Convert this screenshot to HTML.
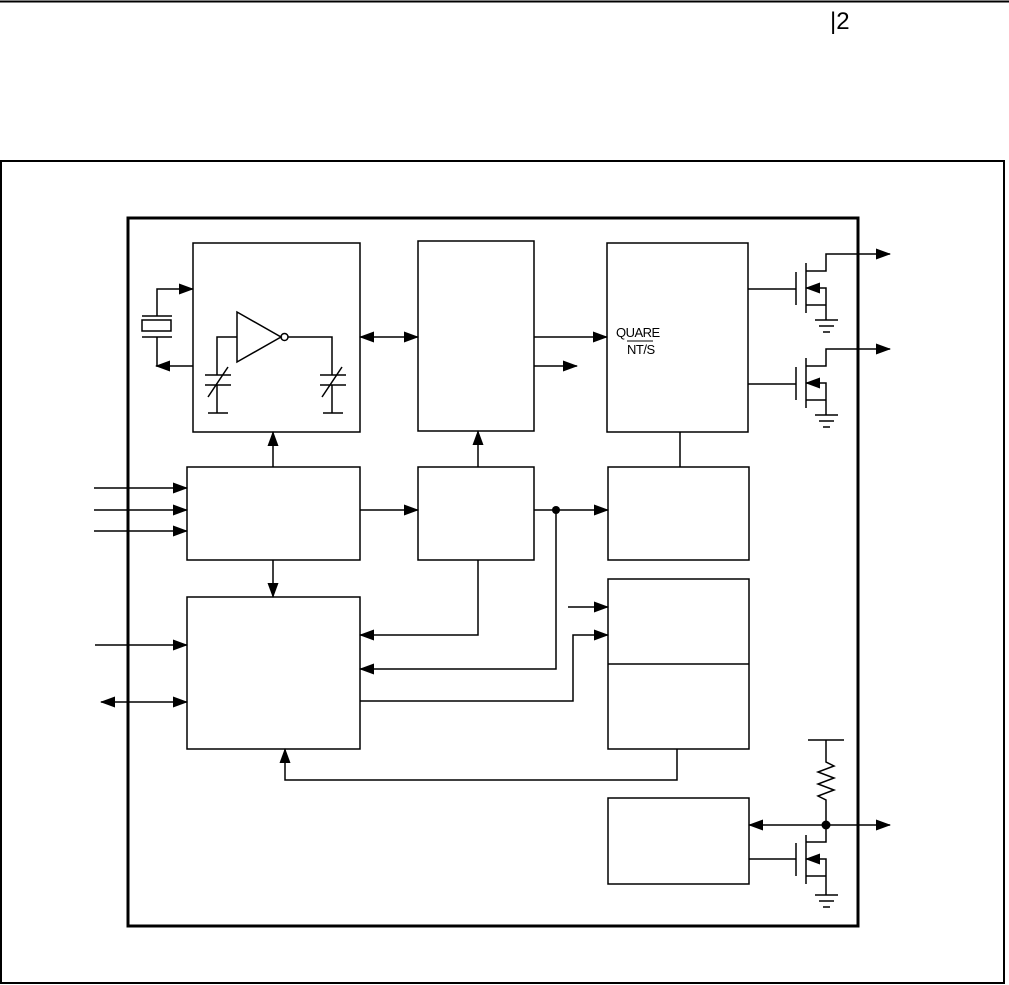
<!DOCTYPE html>
<html><head><style>body{margin:0;background:#fff}svg{display:block}</style></head><body>
<svg width="1009" height="985" viewBox="0 0 1009 985" xmlns="http://www.w3.org/2000/svg" font-family="Liberation Sans, sans-serif">
<defs><marker id="a" markerWidth="15" markerHeight="11" refX="14" refY="5.5" orient="auto" markerUnits="userSpaceOnUse"><path d="M0,0L15,5.5L0,11z" fill="#000"/></marker>
<marker id="s" markerWidth="15" markerHeight="11" refX="1" refY="5.5" orient="auto" markerUnits="userSpaceOnUse"><path d="M15,0L0,5.5L15,11z" fill="#000"/></marker></defs>
<line x1="0" y1="1.5" x2="1009" y2="1.5" stroke="#000" stroke-width="2"/>
<text x="830" y="29" font-size="24">|2</text>
<rect x="1" y="161" width="1003" height="822" fill="none" stroke="#000" stroke-width="2"/>
<rect x="128" y="218" width="730" height="708" fill="none" stroke="#000" stroke-width="3"/>
<g fill="none" stroke="#000" stroke-width="1.5">
<rect x="193" y="243" width="167" height="189"/>
<rect x="418" y="241" width="116" height="190"/>
<rect x="607" y="243" width="141" height="189"/>
<rect x="187" y="467" width="173" height="93"/>
<rect x="418" y="467" width="116" height="93"/>
<rect x="608" y="467" width="141" height="93"/>
<rect x="187" y="597" width="173" height="152"/>
<rect x="608" y="579" width="141" height="170"/>
<line x1="608" y1="664" x2="749" y2="664"/>
<rect x="608" y="798" width="141" height="86"/>
<rect x="142" y="320" width="29" height="11"/>
<line x1="142" y1="316" x2="172" y2="316"/><line x1="142" y1="337" x2="172" y2="337"/>
<polyline points="157,316 157,289 193,289" marker-end="url(#a)"/>
<line x1="157" y1="337" x2="157" y2="366"/>
<line x1="193" y1="366" x2="156" y2="366" marker-end="url(#a)"/>
<path d="M237,312L281,337L237,362z"/><circle cx="284.5" cy="337" r="3.5"/>
<polyline points="237,337 217,337 217,375"/><line x1="205" y1="375" x2="231" y2="375"/><line x1="205" y1="385" x2="231" y2="385"/><line x1="217" y1="385" x2="217" y2="413"/><line x1="208" y1="413" x2="228" y2="413"/><line x1="208" y1="397" x2="228" y2="367"/>
<polyline points="288,337 332,337 332,375"/><line x1="320" y1="375" x2="346" y2="375"/><line x1="320" y1="385" x2="346" y2="385"/><line x1="332" y1="385" x2="332" y2="413"/><line x1="323" y1="413" x2="343" y2="413"/><line x1="322" y1="397" x2="342" y2="367"/>
<line x1="360" y1="337" x2="418" y2="337" marker-start="url(#s)" marker-end="url(#a)"/>
<line x1="534" y1="337" x2="607" y2="337" marker-end="url(#a)"/>
<line x1="534" y1="366" x2="577" y2="366" marker-end="url(#a)"/>
<line x1="273" y1="467" x2="273" y2="432" marker-end="url(#a)"/>
<line x1="478" y1="467" x2="478" y2="431" marker-end="url(#a)"/>
<line x1="680" y1="432" x2="680" y2="467"/>
<line x1="360" y1="510" x2="418" y2="510" marker-end="url(#a)"/>
<line x1="534" y1="510" x2="608" y2="510" marker-end="url(#a)"/>
<line x1="94" y1="488" x2="187" y2="488" marker-end="url(#a)"/>
<line x1="94" y1="510" x2="187" y2="510" marker-end="url(#a)"/>
<line x1="94" y1="531" x2="187" y2="531" marker-end="url(#a)"/>
<line x1="273" y1="560" x2="273" y2="597" marker-end="url(#a)"/>
<polyline points="478,560 478,635 360,635" marker-end="url(#a)"/>
<polyline points="556,510 556,669 360,669" marker-end="url(#a)"/>
<polyline points="360,701 573,701 573,635 608,635" marker-end="url(#a)"/>
<line x1="568" y1="607" x2="608" y2="607" marker-end="url(#a)"/>
<polyline points="677,749 677,780 285,780 285,749" marker-end="url(#a)"/>
<line x1="95" y1="645" x2="187" y2="645" marker-end="url(#a)"/>
<line x1="101" y1="702" x2="187" y2="702" marker-start="url(#s)" marker-end="url(#a)"/>
<g>
<line x1="748" y1="289" x2="796" y2="289"/><line x1="796" y1="272" x2="796" y2="305"/><line x1="806" y1="263" x2="806" y2="313"/>
<polyline points="806,271 826,271 826,254 890,254" marker-end="url(#a)"/>
<polyline points="826,320 826,288 806,288" marker-end="url(#a)"/><line x1="806" y1="305" x2="826" y2="305"/>
<line x1="815" y1="320" x2="838" y2="320"/><line x1="819" y1="326" x2="834" y2="326"/><line x1="823" y1="332" x2="830" y2="332"/>
</g>
<g transform="translate(0,95)">
<line x1="748" y1="289" x2="796" y2="289"/><line x1="796" y1="272" x2="796" y2="305"/><line x1="806" y1="263" x2="806" y2="313"/>
<polyline points="806,271 826,271 826,254 890,254" marker-end="url(#a)"/>
<polyline points="826,320 826,288 806,288" marker-end="url(#a)"/><line x1="806" y1="305" x2="826" y2="305"/>
<line x1="815" y1="320" x2="838" y2="320"/><line x1="819" y1="326" x2="834" y2="326"/><line x1="823" y1="332" x2="830" y2="332"/>
</g>
<line x1="808" y1="740" x2="844" y2="740"/>
<polyline points="826,740 826,762 834,766 818,772 834,778 818,784 834,790 818,796 826,800 826,825"/>
<line x1="749" y1="825" x2="890" y2="825" marker-start="url(#s)" marker-end="url(#a)"/>
<line x1="749" y1="859" x2="796" y2="859"/><line x1="796" y1="843" x2="796" y2="876"/><line x1="806" y1="835" x2="806" y2="884"/>
<polyline points="806,842 826,842 826,825"/>
<polyline points="826,895 826,859 806,859" marker-end="url(#a)"/><line x1="806" y1="876" x2="826" y2="876"/>
<line x1="815" y1="895" x2="838" y2="895"/><line x1="819" y1="901" x2="834" y2="901"/><line x1="823" y1="907" x2="830" y2="907"/>
</g>
<circle cx="556" cy="510" r="4" fill="#000"/><circle cx="826" cy="825" r="4.5" fill="#000"/>
<text x="616" y="337" font-size="13" letter-spacing="-0.5">QUARE</text>
<text x="627" y="354" font-size="13" letter-spacing="-0.5">NT/S</text>
<line x1="627" y1="341" x2="653" y2="341" stroke="#000" stroke-width="1"/>
</svg>
</body></html>
